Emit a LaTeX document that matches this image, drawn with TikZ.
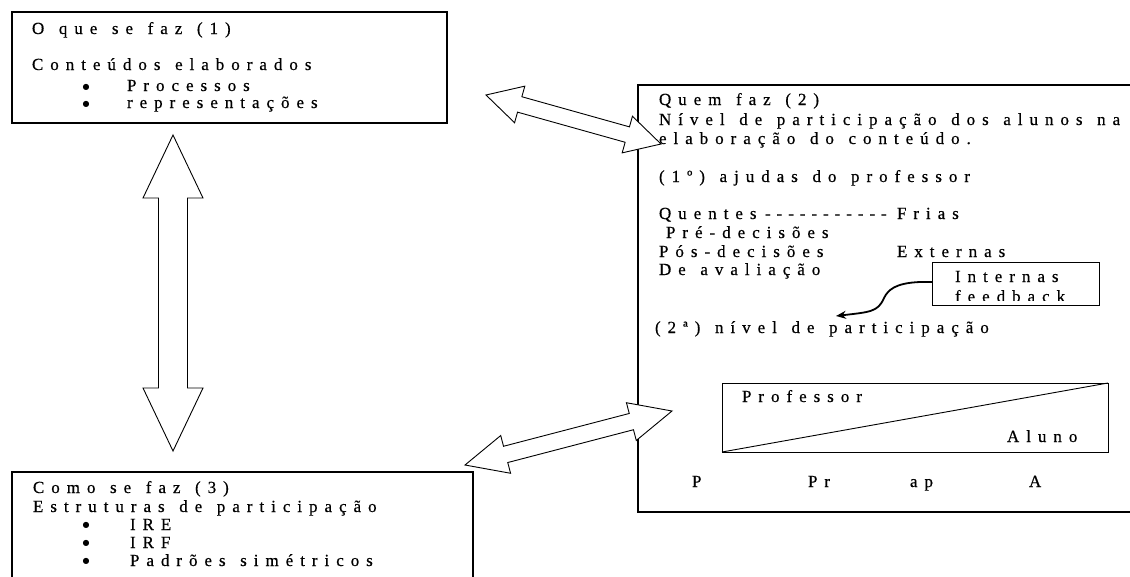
\documentclass[tikz,border=0pt]{standalone}
\usepackage{fontspec}
\setmainfont{Liberation Serif}[LetterSpace=41, WordSpace=1.3, Ligatures=TeXOff, FakeBold=0.5]
\newfontfamily\dotfont{DejaVu Sans}
\usetikzlibrary{calc,arrows.meta}
\newcommand\blockdbl[5]{%
  \coordinate (#1#2ha) at ($(#1)!#3!(#2)$);
  \coordinate (#1#2hb) at ($(#2)!#3!(#1)$);
  \draw[blockarr] (#1)
    -- ($(#1#2ha)!#4!90:(#2)$) -- ($(#1#2ha)!#5!90:(#2)$)
    -- ($(#1#2hb)!#5!-90:(#1)$) -- ($(#1#2hb)!#4!-90:(#1)$)
    -- (#2)
    -- ($(#1#2hb)!#4!90:(#1)$) -- ($(#1#2hb)!#5!90:(#1)$)
    -- ($(#1#2ha)!#5!-90:(#2)$) -- ($(#1#2ha)!#4!-90:(#2)$) -- cycle;}
\tikzset{
  box/.style={draw=black, line width=1.1pt},
  txt/.style={anchor=base west, inner sep=0pt, outer sep=0pt, font=\fontsize{17}{19}\selectfont},
  bul/.style={anchor=center, inner sep=0pt, outer sep=0pt, font=\dotfont\fontsize{8}{8}\selectfont},
  blockarr/.style={draw=black, fill=white, line width=0.9pt, line join=miter},
}
\begin{document}
\begin{tikzpicture}[x=1pt, y=-1pt]
\clip (0,0) rectangle (1130,576);
\fill[white] (0,0) rectangle (1130,576);
% boxes
\draw[box] (12,12) rectangle (447,123);
\draw[box] (638,85) rectangle (1150,512);
\draw[box] (12,472) rectangle (473,600);
% box 1 text
\node[txt] (a1) at (32,34) {O que se faz (1)};
\node[txt] (a2) at (32,70) {Conteúdos elaborados};
\node[bul] (a3) at (86,87) {●};
\node[txt] (a4) at (127,91) {Processos};
\node[bul] (a5) at (86,104) {●};
\node[txt] (a6) at (127,108) {representações};
% box 2 text
\node[txt] (b1) at (659,105) {Quem faz (2)};
\node[txt] (b2) at (659,125) {Nível de participação dos alunos na};
\node[txt] (b3) at (659,144) {elaboração do conteúdo.};
\node[txt] (b4) at (659,182) {(1º) ajudas do professor};
\node[txt] (b5) at (659,219) {Quentes};
\node[txt, font=\fontsize{17}{19}\selectfont\addfontfeature{LetterSpace=35}] (b5d) at (765,219) {-----------};
\node[txt] (b6) at (897,219) {Frias};
\node[txt] (b7) at (666,238) {Pré-decisões};
\node[txt] (b8) at (659,257) {Pós-decisões};
\node[txt] (b9) at (897,257) {Externas};
\node[txt] (b10) at (659,275) {De avaliação};
\node[txt] (b11) at (655,333) {(2ª) nível de participação};
% Internas box
\draw[box, line width=0.9pt] (932,262) rectangle (1099,305);
\begin{scope}
\clip (932,262) rectangle (1099,300);
\node[txt] (c1) at (955,282) {Internas};
\node[txt] (c2) at (955,302) {feedback};
\end{scope}
\coordinate (cs) at (932,282);
\coordinate (ce) at (836,316);
\draw[line width=1.8pt, -{Stealth[length=10pt,width=8pt]}] (cs) -- (920,282)
  .. controls (895,283) and (888,290) .. (884,298)
  .. controls (878,312) and (870,312) .. (ce);
% scale rectangle
\draw[box, line width=0.9pt] (722,383) rectangle (1108,452);
\coordinate (d1) at (722,452);
\coordinate (d2) at (1108,383);
\draw[line width=0.9pt] (d1) -- (d2);
\node[txt] (e1) at (742,402) {Professor};
\node[txt] (e2) at (1007,442) {Aluno};
\node[txt] (f1) at (692,487) {P};
\node[txt] (f2) at (808,487) {Pr};
\node[txt] (f3) at (910,487) {ap};
\node[txt] (f4) at (1029,487) {A};
% box 3 text
\node[txt] (g1) at (33,493) {Como se faz (3)};
\node[txt] (g2) at (33,512) {Estruturas de participação};
\node[bul] (g3) at (86,525) {●};
\node[txt] (g4) at (130,530) {IRE};
\node[bul] (g5) at (86,543) {●};
\node[txt] (g6) at (130,548) {IRF};
\node[bul] (g7) at (86,561) {●};
\node[txt] (g8) at (130,566) {Padrões simétricos};
% block arrows
\coordinate (v1) at (173,135);
\coordinate (v2) at (173,451);
\blockdbl{v1}{v2}{63pt}{30pt}{14.5pt}
\coordinate (u1) at (486,95);
\coordinate (u2) at (661,144);
\blockdbl{u1}{u2}{35pt}{19pt}{8pt}
\coordinate (w1) at (465,465);
\coordinate (w2) at (672,411);
\blockdbl{w1}{w2}{42pt}{19.5pt}{8.4pt}
\end{tikzpicture}
\end{document}
